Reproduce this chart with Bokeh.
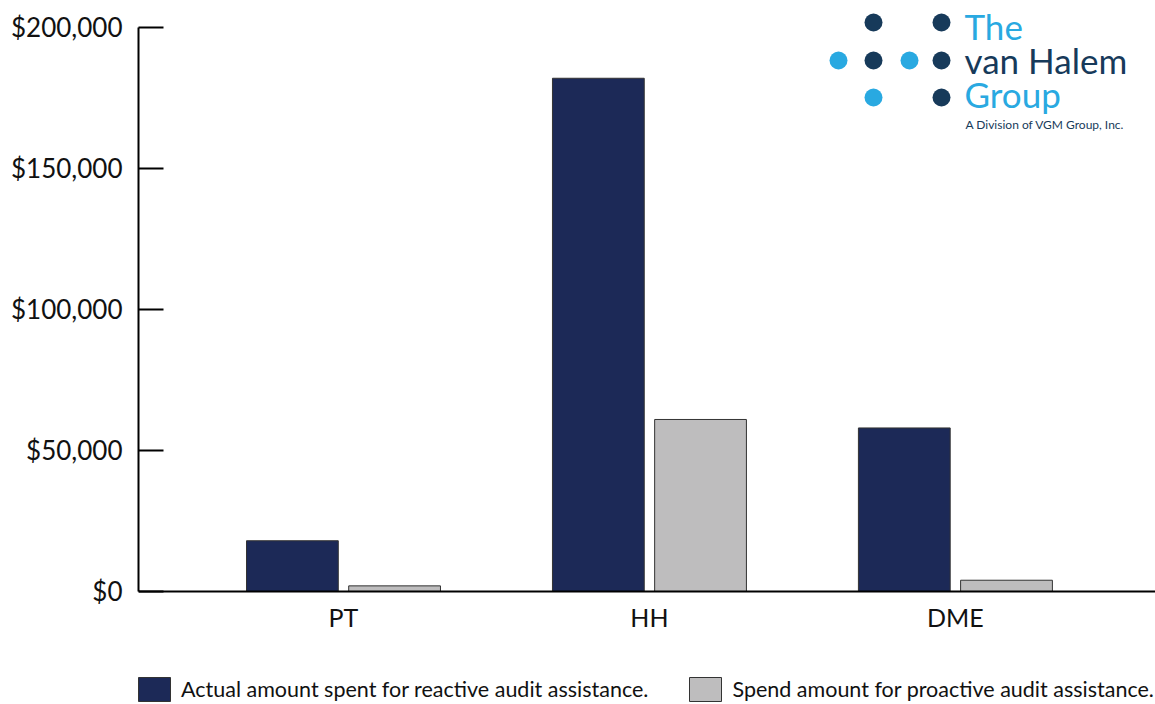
from bokeh.plotting import figure
from bokeh.models import (ColumnDataSource, Range1d, FixedTicker, NumeralTickFormatter,
                          Legend, LegendItem, Label)
from bokeh.transform import dodge
from bokeh.embed import file_html
from bokeh.resources import INLINE

# ---- data ----
categories = ["PT", "HH", "DME"]
reactive = [18000, 182000, 58000]
proactive = [2000, 61000, 4000]
y_ticks = [0, 50000, 100000, 150000, 200000]
series_labels = ["Actual amount spent for reactive audit assistance.",
                 "Spend amount for proactive audit assistance."]

FONT = "Lato"
DARK = "#1c2957"
GRAY = "#bebdbe"
LOGO_DARK = "#173a5a"
LOGO_LIGHT = "#29a9e1"

xs = list(range(len(categories)))
src = ColumnDataSource(dict(x=xs, reactive=reactive, proactive=proactive, cat=categories))

LEFT = 138
FW, FH = 1017, 704
X0, X1 = -0.670, 2.654
Y0, Y1 = -40071, 209574

p = figure(frame_width=FW, frame_height=FH,
           x_range=Range1d(X0, X1), y_range=Range1d(Y0, Y1),
           output_backend="svg", toolbar_location=None,
           min_border_left=LEFT, min_border_right=0, min_border_top=0, min_border_bottom=0)

r1 = p.vbar(x=dodge('x', -0.167), top='reactive', width=0.30, source=src,
            fill_color=DARK, line_color="#333333", line_width=1)
r2 = p.vbar(x=dodge('x', 0.167), top='proactive', width=0.30, source=src,
            fill_color=GRAY, line_color="#333333", line_width=1)

p.xgrid.visible = False
p.ygrid.visible = False
p.outline_line_color = None

ya = p.yaxis[0]
ya.ticker = FixedTicker(ticks=y_ticks)
ya.formatter = NumeralTickFormatter(format="$0,0")
ya.bounds = (0, 200000)
ya.major_tick_in = 25
ya.major_tick_out = 0
ya.minor_tick_in = 0
ya.minor_tick_out = 0
ya.axis_line_width = 2
ya.major_tick_line_width = 2
ya.major_label_text_font = FONT
ya.major_label_text_font_size = "26px"
ya.major_label_text_color = "#111111"
ya.major_label_standoff = 16

xa = p.xaxis[0]
xa.fixed_location = 0
xa.ticker = FixedTicker(ticks=xs)
xa.major_label_overrides = {i: c for i, c in zip(xs, categories)}
xa.major_tick_in = 0
xa.major_tick_out = 0
xa.minor_tick_in = 0
xa.minor_tick_out = 0
xa.axis_line_width = 2
xa.major_label_text_font = FONT
xa.major_label_text_font_size = "25px"
xa.major_label_text_color = "#111111"
xa.major_label_standoff = 11

legend = Legend(items=[LegendItem(label=series_labels[0], renderers=[r1]),
                       LegendItem(label=series_labels[1], renderers=[r2])],
                orientation="horizontal", location=(-4, 0),
                glyph_width=40, glyph_height=30, label_standoff=7, spacing=37,
                padding=0, margin=0, border_line_alpha=0, background_fill_alpha=0,
                label_text_font=FONT, label_text_font_size="21.5px", label_text_color="#111111")
p.add_layout(legend, "center")

# ---- logo (decoration), positioned in page pixels ----
def sx(px):
    return X0 + (px - LEFT) * (X1 - X0) / FW

def sy(py):
    return Y1 - py * (Y1 - Y0) / FH

logo_dots = [(873, 22, LOGO_DARK), (941, 22, LOGO_DARK),
             (838, 60, LOGO_LIGHT), (873, 60, LOGO_DARK), (909, 60, LOGO_LIGHT), (941, 60, LOGO_DARK),
             (873, 97, LOGO_LIGHT), (941, 97, LOGO_DARK)]
p.scatter(x=[sx(d[0]) for d in logo_dots], y=[sy(d[1]) for d in logo_dots],
          size=18, fill_color=[d[2] for d in logo_dots], line_color=None)

logo_texts = [("The", 964, 25, "35px", LOGO_LIGHT),
              ("van Halem", 964, 59, "35px", LOGO_DARK),
              ("Group", 964, 93, "35px", LOGO_LIGHT),
              ("A Division of VGM Group, Inc.", 965, 124, "12px", LOGO_DARK)]
for t, px, py, fs, col in logo_texts:
    p.add_layout(Label(x=sx(px), y=sy(py), text=t, text_font=FONT, text_font_size=fs,
                       text_color=col, text_baseline="middle"))

open("out.html", "w").write(file_html(p, INLINE))
